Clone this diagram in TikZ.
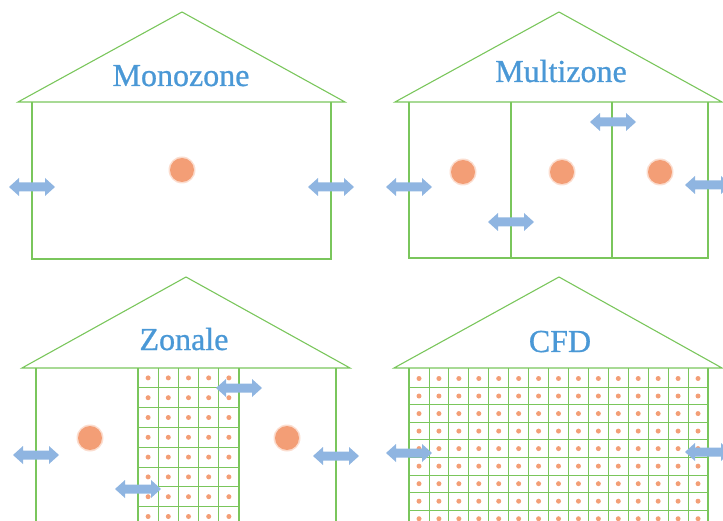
\documentclass[tikz,border=0pt]{standalone}
\usepackage{fontspec}
\setmainfont{Liberation Serif}
\newfontfamily\housefont[FakeBold=0.8]{Liberation Serif}
\usetikzlibrary{calc}
\definecolor{wallgreen}{RGB}{122,198,92}
\definecolor{titleblue}{RGB}{74,152,214}
\definecolor{flowblue}{RGB}{143,181,225}
\definecolor{dotorange}{RGB}{243,158,118}
\def\airflow(#1,#2){\fill[flowblue,shift={(#1,#2)}] (-23,0) -- (-13,9) -- (-13,4.5) -- (13,4.5) -- (13,9) -- (23,0) -- (13,-9) -- (13,-4.5) -- (-13,-4.5) -- (-13,-9) -- cycle;}
\def\zonedot(#1,#2){\fill[dotorange!35] (#1,#2) circle (13.5); \fill[dotorange] (#1,#2) circle (12);}
\tikzset{wall/.style={draw=wallgreen,line width=1.1pt},
	cell/.style={draw=wallgreen,line width=0.8pt},
	title/.style={text=titleblue,font=\housefont\fontsize{32}{32}\selectfont,anchor=base}}

\begin{document}
\begin{tikzpicture}[x=1pt,y=-1pt]
	\useasboundingbox (0,0) rectangle (723,521);
	\clip (0,0) rectangle (723,521);
	%%%%% MONOZONE %%%%%
	\zonedot(182,170)
	\draw[wall] (18,102) -- (182,12) -- (345,102) -- cycle;
	\draw[wall] (32,102) -- (32,259) -- (331,259) -- (331,102);
	\node[title] (mono) at (181,86) {Monozone};
	\airflow(32,187)
	\airflow(331,187)
	
	%%%%% MULTIZONE %%%%%
	\zonedot(463,172)
	\zonedot(562,172)
	\zonedot(660,172)
	\draw[wall] (395,102) -- (559,12) -- (722,102) -- cycle;
	\draw[wall] (409,102) -- (409,258) -- (708,258) -- (708,102);
	\draw[wall] (511,102) -- (511,258);
	\draw[wall] (612,102) -- (612,258);
	\node[title] (multi) at (561,82) {Multizone};
	\airflow(409,187)
	\airflow(511,222)
	\airflow(613,122)
	\airflow(708,185)
	
	%%%%% ZONALE %%%%%
	\foreach \i in {0,...,4}
		\foreach \j in {0,...,7}
			\fill[dotorange] ({148.1+\i*20.2},{377.9+\j*19.8}) circle (2.5);
	\foreach \i in {1,...,4}
		\draw[cell] ({138+\i*20.2},368) -- ({138+\i*20.2},521);
	\foreach \j in {1,...,7}
		\draw[cell] (138,{368+\j*19.8}) -- (239,{368+\j*19.8});
	\draw[wall] (138,368) -- (138,521);
	\draw[wall] (239,368) -- (239,521);
	\zonedot(90,438)
	\zonedot(287,438)
	\draw[wall] (22,368) -- (186,277) -- (350,368) -- cycle;
	\draw[wall] (36,368) -- (36,521);
	\draw[wall] (336,368) -- (336,521);
	\node[title] (zonal) at (184,350) {Zonale};
	\airflow(36,455)
	\airflow(336,456)
	\airflow(239,388)
	\airflow(138,489)
	
	%%%%% CFD %%%%%
	\foreach \i in {0,...,14}
		\foreach \j in {0,...,8}
			\fill[dotorange] ({419+\i*19.93},{378.5+\j*17.53}) circle (2.5);
	\foreach \i in {1,...,14}
		\draw[cell] ({409+\i*19.93},368) -- ({409+\i*19.93},521);
	\foreach \j in {0,...,7}
		\draw[cell] (409,{387.3+\j*17.53}) -- (708,{387.3+\j*17.53});
	\draw[wall] (394,368) -- (559,277) -- (722,368) -- cycle;
	\draw[wall] (409,368) -- (409,521);
	\draw[wall] (708,368) -- (708,521);
	\node[title] (cfd) at (560,352) {CFD};
	\airflow(409,453)
	\airflow(708,452)
\end{tikzpicture}
\end{document}
